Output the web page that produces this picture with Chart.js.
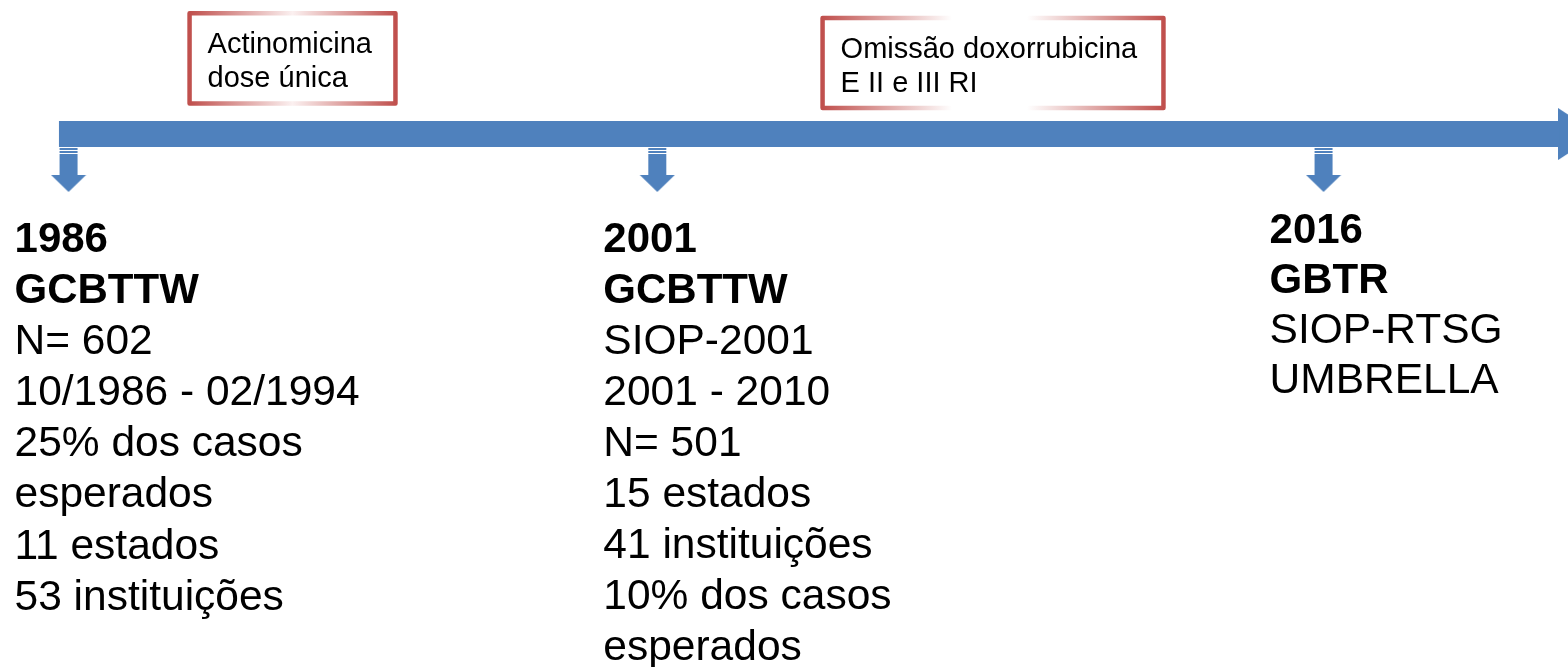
<!DOCTYPE html>
<html>
<head>
<meta charset="utf-8">
<script src="https://cdn.jsdelivr.net/npm/chart.js@4/dist/chart.umd.min.js"></script>
<style>
html,body{margin:0;padding:0;background:#fff;overflow:hidden}
#wrap{width:1568px;height:667px;position:relative}
</style>
</head>
<body>
<div id="wrap"><canvas id="c"></canvas></div>
<script>
// ---------- data ----------
const eventYears = ['1986', '2001', '2016'];
const eventGroups = ['GCBTTW', 'GCBTTW', 'GBTR'];
const eventDetails = [
  ['N= 602', '10/1986 - 02/1994', '25% dos casos', 'esperados', '11 estados', '53 instituições'],
  ['SIOP-2001', '2001 - 2010', 'N= 501', '15 estados', '41 instituições', '10% dos casos', 'esperados'],
  ['SIOP-RTSG', 'UMBRELLA']
];
// position of each event along the (schematic, not to scale) timeline, 0–100
const eventPos = [4.37, 41.92, 84.41];
const milestoneTexts = [['Actinomicina', 'dose única'], ['Omissão doxorrubicina', 'E II e III RI']];
const milestoneStart = [12.09, 52.46];
const milestoneEnd = [25.22, 74.2];
const timelineStart = 3.76;
const timelineEnd = 99.43;

// ---------- layout / style ----------
const L = {
  blue: '#4f81bd',
  red: '#c0504d',
  barY: 20.09,
  barWidth: 26,
  arrowY: 25.41,
  headX: 100.64,
  boxTop: [1.99, 2.70],
  boxBottom: [15.52, 16.19],
  boxStops: [
    [[0, '#c0504d'], [0.5, '#fbf0f0'], [1, '#c0504d']],
    [[0, '#c0504d'], [0.38, '#ffffff'], [0.6, '#ffffff'], [1, '#c0504d']]
  ],
  boxPadX: 18,
  boxBase: [40, 73.5],
  boxFont: '29px "Liberation Sans", Arial, sans-serif',
  textFirst: [37.78, 37.78, 36.43],
  lineGap: [51.1, 51, 50],
  textDx: -54,
  fontReg: '42.5px "Liberation Sans", Arial, sans-serif',
  fontBold: 'bold 42px "Liberation Sans", Arial, sans-serif'
};

function makeDownArrow() {
  const c = document.createElement('canvas');
  c.width = 36; c.height = 45;
  const g = c.getContext('2d');
  g.fillStyle = L.blue;
  g.fillRect(9, 1, 18, 2);
  g.fillRect(9, 4, 18, 2);
  g.fillRect(9, 7, 18, 21.5);
  g.beginPath();
  g.moveTo(0.5, 28); g.lineTo(35.5, 28); g.lineTo(18, 45); g.closePath();
  g.fill();
  return c;
}
function makeHead() {
  const c = document.createElement('canvas');
  c.width = 40; c.height = 52;
  const g = c.getContext('2d');
  g.fillStyle = L.blue;
  g.beginPath();
  g.moveTo(0, 0); g.lineTo(40, 26); g.lineTo(0, 52); g.closePath();
  g.fill();
  return c;
}

const timelinePlugin = {
  id: 'timeline',
  afterDatasetsDraw(chart) {
    const { ctx } = chart;
    const xs = chart.scales.x, ys = chart.scales.y;
    ctx.save();
    // milestone boxes
    milestoneTexts.forEach((lines, i) => {
      const x0 = xs.getPixelForValue(milestoneStart[i]);
      const x1 = xs.getPixelForValue(milestoneEnd[i]);
      const y0 = ys.getPixelForValue(L.boxTop[i]);
      const y1 = ys.getPixelForValue(L.boxBottom[i]);
      ctx.fillStyle = '#fff';
      ctx.fillRect(x0, y0, x1 - x0, y1 - y0);
      const g = ctx.createLinearGradient(x0, 0, x1, 0);
      L.boxStops[i].forEach(([o, c]) => g.addColorStop(o, c));
      ctx.strokeStyle = g;
      ctx.lineWidth = 4.5;
      ctx.lineJoin = 'round';
      ctx.strokeRect(x0, y0, x1 - x0, y1 - y0);
      ctx.fillStyle = '#000';
      ctx.font = L.boxFont;
      ctx.textAlign = 'left';
      ctx.textBaseline = 'alphabetic';
      lines.forEach((t, k) => ctx.fillText(t, x0 + L.boxPadX, y0 + L.boxBase[k]));
    });
    // event labels
    eventYears.forEach((yr, i) => {
      const tx = xs.getPixelForValue(eventPos[i]) + L.textDx;
      const base = ys.getPixelForValue(L.textFirst[i]);
      const lines = [[yr, true], [eventGroups[i], true]].concat(eventDetails[i].map(t => [t, false]));
      ctx.fillStyle = '#000';
      ctx.textAlign = 'left';
      ctx.textBaseline = 'alphabetic';
      lines.forEach(([t, bold], k) => {
        ctx.font = bold ? L.fontBold : L.fontReg;
        ctx.fillText(t, tx, base + k * L.lineGap[i]);
      });
    });
    ctx.restore();
  }
};

new Chart(document.getElementById('c'), {
  type: 'scatter',
  data: {
    datasets: [
      {
        type: 'line',
        data: [{ x: timelineStart, y: L.barY }, { x: timelineEnd, y: L.barY }],
        borderColor: L.blue,
        borderWidth: L.barWidth,
        borderCapStyle: 'butt',
        pointRadius: 0,
        fill: false,
        clip: false
      },
      {
        data: [{ x: L.headX, y: L.barY }],
        pointStyle: makeHead(),
        pointRadius: 30,
        clip: false
      },
      {
        data: eventPos.map(p => ({ x: p, y: L.arrowY })),
        pointStyle: makeDownArrow(),
        pointRadius: 25,
        clip: false
      }
    ]
  },
  options: {
    responsive: true,
    maintainAspectRatio: false,
    animation: false,
    events: [],
    layout: { padding: 0, autoPadding: false },
    plugins: { legend: { display: false }, tooltip: { enabled: false } },
    scales: {
      x: { type: 'linear', min: 0, max: 100, display: false },
      y: { type: 'linear', min: 0, max: 100, reverse: true, display: false }
    }
  },
  plugins: [timelinePlugin]
});
</script>
</body>
</html>
